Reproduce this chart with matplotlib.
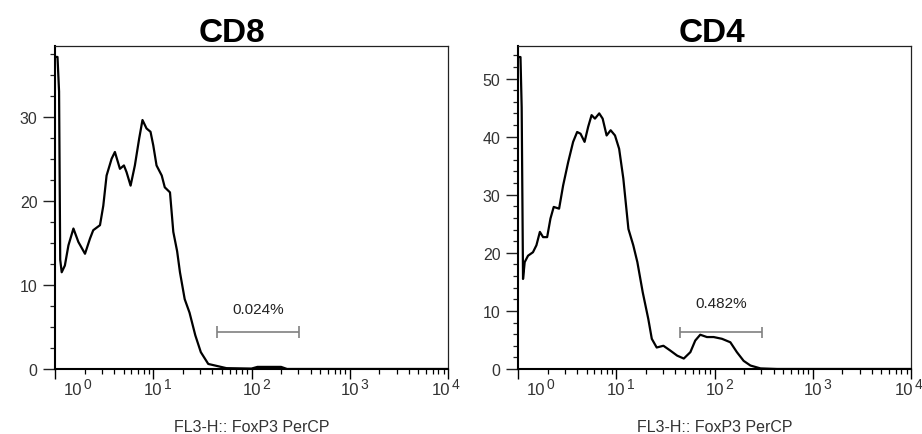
import matplotlib
matplotlib.use('Agg')
import matplotlib.pyplot as plt
import numpy as np
from matplotlib.ticker import MultipleLocator, LogLocator, NullFormatter
from matplotlib.transforms import offset_copy, blended_transform_factory

plt.rcParams['font.family'] = 'Liberation Sans'

# histogram traces (FL3-H intensity vs. count)
cd8_x = [1.005, 1.06, 1.10, 1.13, 1.17, 1.26, 1.37, 1.54, 1.73, 2.02, 2.27, 2.45, 2.87,
         3.10, 3.35, 3.77, 4.07, 4.58, 5.03, 5.35, 5.88, 6.5, 7.19, 7.77, 8.54,
         9.38, 10.0, 10.8, 12.2, 13.1, 14.8, 16.0, 17.5, 18.7, 20.9, 23.4, 26.8,
         30.5, 36.3, 55.6, 100, 115, 200, 230, 9999]
cd8_y = [37.1, 37.1, 33.0, 13.0, 11.5, 12.3, 14.7, 16.7, 15.1, 13.7, 15.5, 16.5, 17.1,
         19.4, 23.0, 25.0, 25.8, 23.8, 24.2, 23.4, 21.8, 24.2, 27.4, 29.6, 28.6,
         28.2, 26.6, 24.2, 23.0, 21.6, 21.0, 16.3, 14.0, 11.5, 8.3, 6.7, 4.0,
         2.0, 0.6, 0.1, 0.05, 0.25, 0.25, 0.0, 0.0]

cd4_x = [1.005, 1.06, 1.09, 1.125, 1.17, 1.265, 1.42, 1.54, 1.67, 1.80, 1.98,
         2.14, 2.31, 2.62, 2.88, 3.24, 3.64, 4.0, 4.33, 4.76, 5.18, 5.61, 6.07,
         6.71, 7.27, 7.98, 8.77, 9.71, 10.7, 11.8, 13.3, 14.9, 16.4, 18.6, 21.2,
         23.0, 25.8, 30.2, 35.3, 41.7, 48.7, 56.8, 63.7, 71.6, 83.7, 98.0, 119,
         145, 169, 198, 232, 294, 433, 9999]
cd4_y = [53.7, 53.7, 45.0, 15.5, 18.4, 19.5, 20.1, 21.3, 23.6, 22.7, 22.7,
         25.9, 27.9, 27.6, 31.6, 35.6, 39.1, 40.8, 40.5, 39.1, 41.7, 43.7, 43.1,
         44.0, 43.1, 40.2, 41.1, 40.2, 37.9, 32.8, 24.1, 21.3, 18.4, 13.2, 8.6,
         5.2, 3.7, 4.0, 3.2, 2.3, 1.8, 2.9, 4.9, 5.9, 5.5, 5.5, 5.2,
         4.6, 2.9, 1.4, 0.6, 0.1, 0.0, 0.0]

# marker gates: (low, high, level, label, label level)
cd8_gate = (44.7, 305, 4.4, '0.024%', 7.1)
cd4_gate = (44.8, 305, 6.3, '0.482%', 11.4)

panels = [
    dict(title='CD8', x=cd8_x, y=cd8_y, gate=cd8_gate, ymax=38.4, major=10,
         minor=2.5, cap=0.7, left=55, title_x=0.45),
    dict(title='CD4', x=cd4_x, y=cd4_y, gate=cd4_gate, ymax=55.6, major=10,
         minor=2, cap=1.0, left=518, title_x=0.494),
]
decades = [0, 1, 2, 3, 4]
label_shift = [13, 0, 0, 0, -5]  # pt, keeps the end labels inside the frame

W, H = 922, 435
fig = plt.figure(figsize=(W / 100, H / 100), dpi=100)

for p in panels:
    ax = fig.add_axes([p['left'] / W, (H - 370) / H, 393 / W, 323 / H])
    ax.plot(p['x'], p['y'], color='black', lw=1.6, solid_joinstyle='round')

    lo, hi, lvl, txt, txt_y = p['gate']
    ax.hlines(lvl, lo, hi, color='#808080', lw=1.2)
    ax.vlines([lo, hi], lvl - p['cap'], lvl + p['cap'], color='#808080', lw=1.2)
    ax.text(np.sqrt(lo * hi), txt_y, txt, ha='center', va='center',
            fontsize=11, color='#222222')

    ax.set_xscale('log')
    ax.set_xlim(1, 1e4)
    ax.set_ylim(0, p['ymax'])

    for side in ['left', 'bottom']:
        ax.spines[side].set_linewidth(1.5)
        ax.spines[side].set_color('black')
    for side in ['top', 'right']:
        ax.spines[side].set_linewidth(0.9)
        ax.spines[side].set_color('#222222')

    ax.yaxis.set_major_locator(MultipleLocator(p['major']))
    ax.yaxis.set_minor_locator(MultipleLocator(p['minor']))
    ax.xaxis.set_major_locator(LogLocator(base=10, numticks=10))
    ax.xaxis.set_minor_locator(LogLocator(base=10, subs=np.arange(2, 10), numticks=20))
    ax.xaxis.set_major_formatter(NullFormatter())
    ax.xaxis.set_minor_formatter(NullFormatter())

    ax.tick_params(axis='y', which='major', length=8.6, width=1.0, pad=4,
                   labelsize=11.5, labelcolor='#333333', color='#222222')
    ax.tick_params(axis='y', which='minor', length=3.6, width=0.9, color='#222222')
    ax.tick_params(axis='x', which='major', length=7.2, width=1.0, color='black')
    ax.tick_params(axis='x', which='minor', length=3.4, width=0.9, color='black')

    # decade labels drawn as "10" with a raised exponent
    trans = blended_transform_factory(ax.transData, ax.transAxes)
    for d, sh in zip(decades, label_shift):
        base = offset_copy(trans, fig=fig, x=sh, y=-18, units='points')
        ax.text(10 ** d, 0, '10', transform=base, ha='center', va='baseline',
                fontsize=12, color='#333333', clip_on=False)
        sup = offset_copy(trans, fig=fig, x=sh + 7.4, y=-13.5, units='points')
        ax.text(10 ** d, 0, str(d), transform=sup, ha='left', va='baseline',
                fontsize=10, color='#333333', clip_on=False)

    ax.text(0.5, -0.177, 'FL3-H:: FoxP3 PerCP', transform=ax.transAxes,
            ha='center', va='center', fontsize=11.5, color='#333333')
    ax.text(p['title_x'], 1.016, p['title'], transform=ax.transAxes,
            ha='center', va='baseline', fontsize=24, fontweight='bold', color='black')

fig.savefig('out.png', dpi=100)
